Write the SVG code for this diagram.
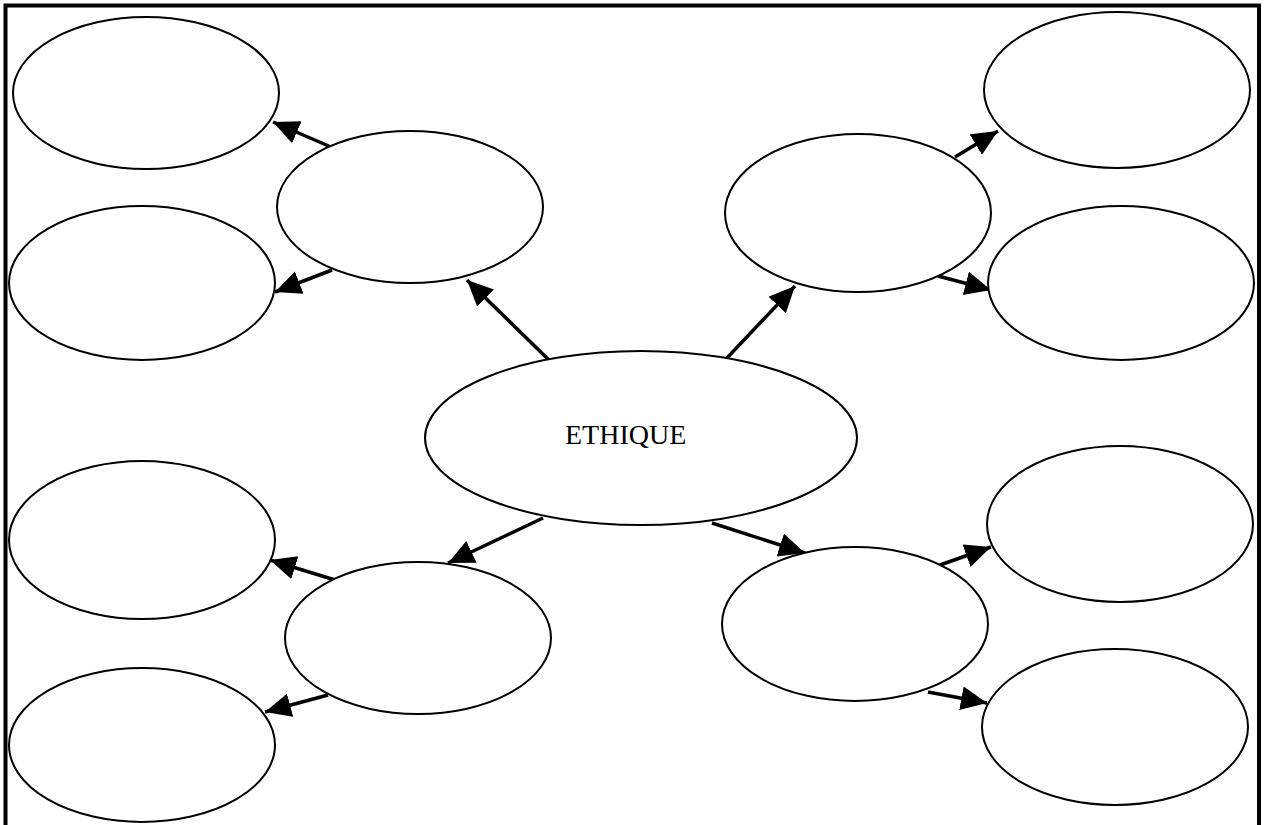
<svg xmlns="http://www.w3.org/2000/svg" width="1269" height="825" viewBox="0 0 1269 825">
<style>
.n ellipse{fill:#fff;stroke:#000;stroke-width:2}
.c line{stroke:#000;stroke-width:3.5;marker-end:url(#ah)}
.frame{fill:none;stroke:#000;stroke-width:4}
.t{font-family:"Liberation Serif","Times New Roman",serif;font-size:28px;fill:#000}
</style>
<defs>
<marker id="ah" markerUnits="userSpaceOnUse" markerWidth="28" markerHeight="26" refX="26" refY="12" orient="auto">
<path d="M0,0 L26,12 L0,24 Z" fill="#000"/>
</marker>
</defs>
<rect width="1269" height="825" fill="#fff"/>
<path class="frame" d="M5.5,830 V5.5 H1259 V830"/>
<g id="connectors" class="c">
<line x1="553" y1="364" x2="467" y2="280"/>
<line x1="727" y1="358" x2="795" y2="286"/>
<line x1="543" y1="518" x2="448" y2="563"/>
<line x1="712" y1="523" x2="805" y2="553"/>
<line x1="331" y1="147" x2="273" y2="122"/>
<line x1="332" y1="270" x2="275" y2="292"/>
<line x1="955" y1="157" x2="998" y2="131"/>
<line x1="938" y1="276" x2="991" y2="290"/>
<line x1="335" y1="580" x2="270" y2="560"/>
<line x1="328" y1="695" x2="265" y2="712"/>
<line x1="940" y1="565" x2="991" y2="547"/>
<line x1="928" y1="692" x2="987" y2="703"/>
</g>
<g id="n-center" class="n"><ellipse cx="641" cy="438" rx="216" ry="87"/><text class="t" x="565" y="444">ETHIQUE</text></g>
<g id="n-ul" class="n"><ellipse cx="410" cy="207" rx="133" ry="76"/></g>
<g id="n-ur" class="n"><ellipse cx="858" cy="213" rx="133" ry="79"/></g>
<g id="n-ll" class="n"><ellipse cx="418" cy="638" rx="133" ry="76"/></g>
<g id="n-lr" class="n"><ellipse cx="855" cy="624" rx="133" ry="77"/></g>
<g id="n-ul1" class="n"><ellipse cx="146" cy="93" rx="133" ry="76"/></g>
<g id="n-ul2" class="n"><ellipse cx="142" cy="283" rx="133" ry="77"/></g>
<g id="n-ur1" class="n"><ellipse cx="1117" cy="90" rx="133" ry="78"/></g>
<g id="n-ur2" class="n"><ellipse cx="1121" cy="283" rx="133" ry="77"/></g>
<g id="n-ll1" class="n"><ellipse cx="142" cy="540" rx="133" ry="79"/></g>
<g id="n-ll2" class="n"><ellipse cx="142" cy="745" rx="133" ry="77"/></g>
<g id="n-lr1" class="n"><ellipse cx="1120" cy="524" rx="133" ry="78"/></g>
<g id="n-lr2" class="n"><ellipse cx="1115" cy="727" rx="133" ry="78"/></g>
</svg>
